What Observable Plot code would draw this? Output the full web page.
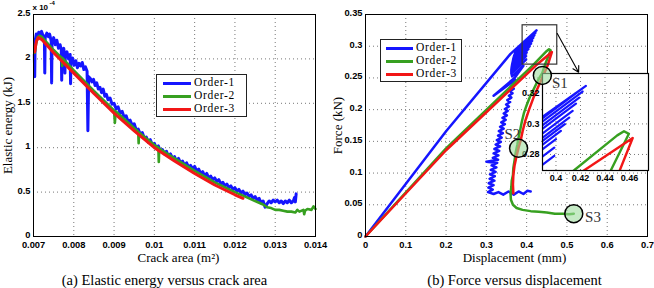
<!DOCTYPE html>
<html><head><meta charset="utf-8">
<script src="https://cdn.jsdelivr.net/npm/d3@7"></script>
<script src="https://cdn.jsdelivr.net/npm/@observablehq/plot@0.6"></script>
<style>
body{margin:0;background:#fff;}
#wrap{position:relative;width:654px;height:288px;overflow:hidden;background:#fff;}
.abs{position:absolute;}
.legend{position:absolute;background:#fff;border:1.2px solid #222;box-sizing:border-box;}
.sw{position:absolute;height:3px;}
.lt{position:absolute;font-family:"Liberation Serif",serif;font-size:11.5px;letter-spacing:0.7px;color:#000;line-height:12px;}
</style></head><body><div id="wrap"></div>
<script>
// ---------- Panel (a): elastic energy (x 1e-4 kJ) vs crack area (m^2) ----------
const energyTicksX = [0.007,0.008,0.009,0.010,0.011,0.012,0.013,0.014];
const energyTickLabelsX = ["0.007","0.008","0.009","0.01","0.011","0.012","0.013","0.014"];
const energyTicksY = [0,0.5,1,1.5,2,2.5];
const energyTickLabelsY = ["0","0.5","1","1.5","2","2.5"];

const energyBlueX = [0.00702,0.00703,0.00704,0.00707,0.00710,0.00713,0.00716,0.00720,0.00723,0.00727,0.00728,0.00729,0.00733,0.00737,0.00740,0.00744,0.00745,0.00746,0.00750,0.00754,0.00758,0.00762,0.00766,0.00769,0.00770,0.00771,0.00775,0.00777,0.00778,0.00779,0.00783,0.00787,0.00791,0.00792,0.00793,0.00797,0.00801,0.00805,0.00809,0.00813,0.00817,0.00821,0.00825,0.00829,0.00833,0.00835,0.00837,0.00841,0.00845,0.00849,0.00853,0.00857,0.00861,0.00865,0.00869,0.00873,0.00877,0.00881,0.00885,0.00890,0.00895,0.00900,0.00905,0.00910,0.00915,0.00920,0.00925,0.00930,0.00935,0.00940,0.00945,0.00950,0.00955,0.00960,0.00965,0.00970,0.00975,0.00980,0.00985,0.00990,0.00995,0.01000,0.01005,0.01010,0.01015,0.01020,0.01025,0.01030,0.01035,0.01040,0.01045,0.01050,0.01055,0.01060,0.01065,0.01070,0.01075,0.01080,0.01085,0.01090,0.01095,0.01100,0.01105,0.01110,0.01115,0.01120,0.01125,0.01130,0.01135,0.01140,0.01145,0.01150,0.01155,0.01160,0.01165,0.01170,0.01175,0.01180,0.01185,0.01190,0.01195,0.01200,0.01205,0.01210,0.01215,0.01220,0.01225,0.01230,0.01235,0.01240,0.01245,0.01250,0.01255,0.01260,0.01265,0.01270,0.01275,0.01280,0.01285,0.01290,0.01295,0.01300,0.01305,0.01310,0.01315,0.01320,0.01325,0.01330,0.01335,0.01340,0.01345,0.01348,0.01350,0.01352];
const energyBlueY = [2.05,1.80,2.20,2.28,2.24,2.30,2.25,2.31,2.27,2.25,1.84,2.24,2.29,2.25,2.28,2.20,1.73,2.18,2.24,2.16,2.21,2.12,2.16,2.10,1.76,2.08,2.12,2.05,1.84,2.04,2.08,2.00,2.05,1.72,1.98,2.01,1.93,1.98,1.90,1.95,1.92,1.96,1.88,1.91,1.86,1.19,1.80,1.78,1.74,1.77,1.70,1.73,1.66,1.68,1.62,1.66,1.58,1.60,1.54,1.56,1.49,1.50,1.44,1.46,1.39,1.41,1.34,1.36,1.29,1.31,1.25,1.27,1.20,1.21,1.15,1.17,1.11,1.12,1.06,1.09,1.03,1.05,0.99,1.02,0.96,0.98,0.93,0.96,0.90,0.93,0.88,0.90,0.85,0.88,0.83,0.85,0.80,0.83,0.78,0.80,0.76,0.79,0.74,0.76,0.71,0.73,0.68,0.71,0.66,0.68,0.64,0.66,0.62,0.64,0.59,0.61,0.57,0.59,0.55,0.57,0.53,0.55,0.51,0.53,0.49,0.51,0.47,0.49,0.45,0.47,0.43,0.45,0.41,0.43,0.38,0.40,0.33,0.37,0.40,0.38,0.41,0.39,0.41,0.38,0.40,0.37,0.40,0.38,0.41,0.38,0.40,0.44,0.39,0.48];

const energyGreenX = [0.00703,0.00706,0.00710,0.00715,0.00720,0.00750,0.00770,0.00771,0.00772,0.00800,0.00850,0.00900,0.00902,0.00904,0.00950,0.00960,0.00961,0.00962,0.01000,0.01010,0.01011,0.01012,0.01050,0.01100,0.01150,0.01200,0.01220,0.01250,0.01270,0.01280,0.01290,0.01300,0.01310,0.01320,0.01330,0.01340,0.01350,0.01355,0.01360,0.01370,0.01372,0.01374,0.01380,0.01390,0.01395,0.01400];
const energyGreenY = [2.07,2.16,2.24,2.26,2.25,2.10,2.01,1.92,2.01,1.87,1.64,1.42,1.28,1.41,1.22,1.18,1.05,1.17,1.03,1.00,0.84,0.99,0.88,0.74,0.61,0.50,0.46,0.40,0.36,0.33,0.32,0.30,0.30,0.29,0.28,0.28,0.27,0.30,0.28,0.30,0.25,0.29,0.31,0.30,0.34,0.31];

const energyRedX = [0.00703,0.00707,0.00712,0.00720,0.00750,0.00800,0.00850,0.00900,0.00950,0.01000,0.01050,0.01100,0.01150,0.01200,0.01220];
const energyRedY = [2.08,2.20,2.24,2.22,2.07,1.84,1.61,1.39,1.19,1.00,0.85,0.71,0.58,0.47,0.43];

// ---------- Panel (b): force (kN) vs displacement (mm) ----------
const fdTicksX = [0,0.1,0.2,0.3,0.4,0.5,0.6,0.7];
const fdTickLabelsX = ["0","0.1","0.2","0.3","0.4","0.5","0.6","0.7"];
const fdTicksY = [0,0.05,0.1,0.15,0.2,0.25,0.3,0.35];
const fdTickLabelsY = ["0","0.05","0.1","0.15","0.2","0.25","0.3","0.35"];
const insetTicksX = [0.4,0.42,0.44,0.46];
const insetTickLabelsX = ["0.4","0.42","0.44","0.46"];
const insetTicksY = [0.28,0.3,0.32];
const insetTickLabelsY = ["0.28","0.3","0.32"];

const fdBlueX = [0,0.2,0.36,0.4244,0.375,0.373,0.4217,0.373,0.371,0.419,0.371,0.369,0.4163,0.369,0.367,0.4136,0.367,0.366,0.4108,0.366,0.365,0.4073,0.365,0.364,0.404,0.364,0.363,0.400,0.363,0.362,0.3986,0.362,0.362,0.3986,0.362,0.364,0.392,0.370,0.318,0.372,
  0.366,0.371,0.362,0.368,0.359,0.365,0.356,0.362,0.352,0.359,0.349,0.356,0.346,0.353,0.343,0.351,0.340,0.348,0.337,0.346,0.334,0.343,0.331,0.341,0.329,0.338,0.326,0.336,0.323,0.334,0.320,0.332,0.318,0.330,0.316,0.329,0.300,0.327,0.313,0.325,0.311,0.323,0.309,0.321,0.308,0.320,0.306,0.318,0.305,0.316,0.304,0.318,0.330,0.342,0.355,0.368,0.380,0.392,0.402,0.410];
const fdBlueY = [0,0.166,0.288,0.3249,0.2953,0.292,0.3212,0.292,0.2884,0.3172,0.2884,0.2849,0.3133,0.2849,0.2805,0.3085,0.2805,0.2772,0.3041,0.2772,0.2744,0.2998,0.2744,0.2714,0.2954,0.2714,0.2678,0.2900,0.2678,0.2625,0.2845,0.2625,0.2570,0.2790,0.2570,0.2524,0.2692,0.250,0.222,0.247,
  0.243,0.240,0.236,0.233,0.229,0.226,0.222,0.219,0.215,0.212,0.208,0.205,0.201,0.198,0.194,0.191,0.187,0.184,0.180,0.177,0.173,0.170,0.166,0.163,0.159,0.156,0.152,0.149,0.145,0.142,0.138,0.135,0.131,0.128,0.124,0.121,0.118,0.116,0.112,0.109,0.105,0.102,0.098,0.095,0.091,0.088,0.084,0.081,0.077,0.074,0.070,0.067,0.070,0.066,0.071,0.066,0.071,0.067,0.072,0.071];

const fdGreenX = [0,0.2,0.4146,0.450,0.4555,0.4595,0.4447,0.439,0.428,0.418,0.408,0.400,0.393,0.388,0.384,0.380,0.377,0.373,0.370,0.367,0.366,0.363,0.362,0.360,0.361,0.366,0.375,0.390,0.410,0.430,0.450,0.470,0.490,0.505,0.517];
const fdGreenY = [0,0.139,0.2695,0.2925,0.2952,0.2935,0.2695,0.258,0.246,0.233,0.220,0.207,0.194,0.181,0.168,0.156,0.145,0.133,0.120,0.108,0.097,0.088,0.078,0.068,0.058,0.050,0.045,0.042,0.040,0.039,0.038,0.036,0.036,0.035,0.036];

const fdRedX = [0,0.2,0.4228,0.4626,0.452,0.440,0.428,0.417,0.406,0.397,0.390,0.385,0.380,0.375,0.370,0.367,0.366,0.367];
const fdRedY = [0,0.136,0.2695,0.2908,0.2695,0.252,0.235,0.219,0.200,0.183,0.166,0.151,0.140,0.127,0.112,0.097,0.082,0.068];

const stageNames = ["S1","S2","S3"];
const stageX = [0.439,0.380,0.517];
const stageY = [0.254,0.139,0.036];
const stageLabelX = [0.463,0.345,0.545];
const stageLabelY = [0.241,0.162,0.030];

const seriesNames = ["Order-1","Order-2","Order-3"];
const colors = ["#1515ff","#37a020","#f21616"];

// ---------- helpers ----------
const zipXY = (xs, ys) => xs.map((x, i) => ({x, y: ys[i]}));
const fmtFrom = (ticks, labels) => { const m = new Map(ticks.map((t,i)=>[t, labels[i]])); return d => m.get(d) ?? ""; };
const SERIF = "'Liberation Serif','DejaVu Serif',serif";
const SANS = "'Liberation Sans',Arial,sans-serif";
const baseStyle = {fontFamily: SANS, fontSize: "9.3px", fontWeight: "bold", background: "transparent", overflow: "visible"};
const gridOpts = {stroke: "#555", strokeOpacity: 0.8, strokeDasharray: "1,3", strokeWidth: 1};
const titleOpts = {fontFamily: SERIF, fontSize: 13, fontWeight: "normal", lineAnchor: "middle", textAnchor: "middle"};
const captionOpts = {fontFamily: SERIF, fontSize: 14.5, fontWeight: "normal", lineAnchor: "middle", textAnchor: "middle"};

const wrap = document.getElementById("wrap");
function place(el, left, top) { el.classList.add("abs"); el.style.left = left + "px"; el.style.top = top + "px"; wrap.appendChild(el); }

// ---------- Left plot ----------
const eBlue = zipXY(energyBlueX, energyBlueY);
const eGreen = zipXY(energyGreenX, energyGreenY);
const eRed = zipXY(energyRedX, energyRedY);

const left = Plot.plot({
  width: 330, height: 288,
  marginLeft: 33, marginRight: 15, marginTop: 14, marginBottom: 52,
  style: baseStyle,
  x: {domain: [0.007, 0.014]},
  y: {domain: [0, 2.5]},
  marks: [
    Plot.gridX(energyTicksX, gridOpts),
    Plot.gridY(energyTicksY, gridOpts),
    Plot.axisX(energyTicksX, {tickSize: 0, tickPadding: 5, tickFormat: fmtFrom(energyTicksX, energyTickLabelsX), label: null}),
    Plot.axisY(energyTicksY, {tickSize: 0, tickPadding: 3, dy: -1.5, tickFormat: fmtFrom(energyTicksY, energyTickLabelsY), label: null}),
    Plot.line(eBlue, {x: "x", y: "y", stroke: colors[0], strokeWidth: 3}),
    Plot.line(eGreen, {x: "x", y: "y", stroke: colors[1], strokeWidth: 2.6}),
    Plot.line(eRed, {x: "x", y: "y", stroke: colors[2], strokeWidth: 3}),
    Plot.frame({stroke: "#000", strokeWidth: 1}),
    Plot.text(["x 10"], {frameAnchor: "top-left", textAnchor: "start", lineAnchor: "middle", dx: -1, dy: -7, fontSize: 8, fontWeight: "bold"}),
    Plot.text(["-4"], {frameAnchor: "top-left", textAnchor: "start", lineAnchor: "middle", dx: 16, dy: -11, fontSize: 6, fontWeight: "bold"}),
    Plot.text(["Crack area (m²)"], {...titleOpts, frameAnchor: "bottom", dx: 4, dy: 21}),
    Plot.text(["Elastic energy (kJ)"], {...titleOpts, frameAnchor: "left", dx: -26, rotate: -90}),
    Plot.text(["(a) Elastic energy versus crack area"], {...captionOpts, frameAnchor: "bottom", dx: -10, dy: 44})
  ]
});
place(left, 0, 0);

// ---------- Right plot ----------
const fBlue = zipXY(fdBlueX, fdBlueY);
const fGreen = zipXY(fdGreenX, fdGreenY);
const fRed = zipXY(fdRedX, fdRedY);
const xDomR = [0, 0.7], yDomR = [0, 0.35];
const rightDims = {width: 324, height: 288, marginLeft: 35, marginRight: 7, marginTop: 14, marginBottom: 52};
const zoomBox = [{x1: 0.39, x2: 0.476, y1: 0.271, y2: 0.333}];

const right = Plot.plot({
  ...rightDims,
  style: baseStyle,
  x: {domain: xDomR},
  y: {domain: yDomR},
  marks: [
    Plot.gridX(fdTicksX, gridOpts),
    Plot.gridY(fdTicksY, gridOpts),
    Plot.axisX(fdTicksX, {tickSize: 0, tickPadding: 5, tickFormat: fmtFrom(fdTicksX, fdTickLabelsX), label: null}),
    Plot.axisY(fdTicksY, {tickSize: 0, tickPadding: 3, dy: -1.5, tickFormat: fmtFrom(fdTicksY, fdTickLabelsY), label: null}),
    Plot.line(fBlue, {x: "x", y: "y", stroke: colors[0], strokeWidth: 2.5}),
    Plot.line(fGreen, {x: "x", y: "y", stroke: colors[1], strokeWidth: 2.5}),
    Plot.line(fRed, {x: "x", y: "y", stroke: colors[2], strokeWidth: 2.5}),
    Plot.rect(zoomBox, {x1: "x1", x2: "x2", y1: "y1", y2: "y2", fill: "none", stroke: "#333", strokeWidth: 1.2}),
    Plot.frame({stroke: "#000", strokeWidth: 1}),
    Plot.text(["Displacement (mm)"], {...titleOpts, frameAnchor: "bottom", dx: 8, dy: 21}),
    Plot.text(["Force (kN)"], {...titleOpts, frameAnchor: "left", dx: -28, rotate: -90}),
    Plot.text(["(b) Force versus displacement"], {...captionOpts, frameAnchor: "bottom", dx: 8, dy: 44})
  ]
});
place(right, 330, 0);

// ---------- Inset ----------
const inset = Plot.plot({
  width: 24 + 106 + 4, height: 2 + 97 + 16,
  marginLeft: 24, marginRight: 4, marginTop: 2, marginBottom: 16,
  style: {...baseStyle, fontSize: "9px"},
  x: {domain: [0.389, 0.4755]},
  y: {domain: [0.2695, 0.333]},
  marks: [
    Plot.frame({fill: "#fff", stroke: "none"}),
    Plot.gridX(insetTicksX, gridOpts),
    Plot.gridY(insetTicksY, gridOpts),
    Plot.axisX(insetTicksX, {tickSize: 0, tickPadding: 4, tickFormat: fmtFrom(insetTicksX, insetTickLabelsX), label: null}),
    Plot.axisY(insetTicksY, {tickSize: 0, tickPadding: 3, tickFormat: fmtFrom(insetTicksY, insetTickLabelsY), label: null}),
    Plot.line(fBlue, {x: "x", y: "y", stroke: colors[0], strokeWidth: 2.2, clip: true}),
    Plot.line(fGreen, {x: "x", y: "y", stroke: colors[1], strokeWidth: 2.4, clip: true}),
    Plot.line(fRed, {x: "x", y: "y", stroke: colors[2], strokeWidth: 2.4, clip: true}),
    Plot.frame({stroke: "#000", strokeWidth: 1.2})
  ]
});
place(inset, 542 - 24, 73 - 2);

// ---------- Overlay: stage circles, labels, arrow ----------
const stages = stageNames.map((n, i) => ({n, x: stageX[i], y: stageY[i], lx: stageLabelX[i], ly: stageLabelY[i]}));
const overlay = Plot.plot({
  ...rightDims,
  style: {...baseStyle, pointerEvents: "none"},
  x: {domain: xDomR, axis: null},
  y: {domain: yDomR, axis: null},
  marks: [
    Plot.arrow([{x1: 0.476, y1: 0.320, x2: 0.529, y2: 0.259}], {x1: "x1", y1: "y1", x2: "x2", y2: "y2", stroke: "#000", strokeWidth: 1.1, headLength: 9}),
    Plot.dot(stages, {x: "x", y: "y", r: 9, fill: "#9fdc9f", fillOpacity: 0.6, stroke: "#000", strokeWidth: 1.5}),
    Plot.text(stages, {x: "lx", y: "ly", text: "n", textAnchor: "start", lineAnchor: "middle", fontFamily: SERIF, fontSize: 15, fontWeight: "normal", fill: "#333"})
  ]
});
place(overlay, 330, 0);

// ---------- Legends ----------
function legend(left, top, w, h, rows, swX0, swX1, textX) {
  const box = document.createElement("div");
  box.className = "legend";
  box.style.left = left + "px"; box.style.top = top + "px";
  box.style.width = w + "px"; box.style.height = h + "px";
  seriesNames.forEach((name, i) => {
    const sw = document.createElement("div");
    sw.className = "sw";
    sw.style.left = (swX0 - left) + "px"; sw.style.width = (swX1 - swX0) + "px";
    sw.style.top = (rows[i] - top - 1.5) + "px";
    sw.style.background = colors[i];
    box.appendChild(sw);
    const t = document.createElement("div");
    t.className = "lt";
    t.textContent = name;
    t.style.left = (textX - left) + "px";
    t.style.top = (rows[i] - top - 7) + "px";
    box.appendChild(t);
  });
  wrap.appendChild(box);
}
legend(156, 74, 91, 43, [82, 95, 108], 162, 190, 193);
legend(380, 39, 82, 43, [47, 60, 73], 385, 412, 415);
</script></body></html>
